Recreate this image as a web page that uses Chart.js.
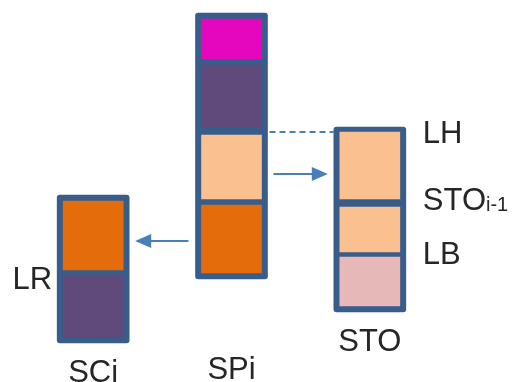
<!DOCTYPE html>
<html>
<head>
<meta charset="utf-8">
<script src="https://cdn.jsdelivr.net/npm/chart.js@4"></script>
<style>
  html, body { margin: 0; padding: 0; background: #fff; }
  canvas { display: block; }
</style>
</head>
<body>
<canvas id="diagram" width="516" height="382"></canvas>
<script>
// columns of the diagram
const columns = ["SCi", "SPi", "STO"];
// outer box of every column [bottom, top]
const boxRanges = [[39, 187], [103, 369], [70, 255]];
// stacked compartments, bottom layer first, one entry per column
const layer1 = [[45, 106], [109, 177], [76, 125]];
const layer2 = [[112, 181], [183, 247], [130, 175]];
const layer3 = [null, [255, 317], [183, 250]];
const layer4 = [null, [323, 363], null];
// level marks next to the boxes
const levelNames = ["LH", "STO", "LB", "LR"];
const levelSubs = ["", "i-1", "", ""];
const levelColumns = ["STO", "STO", "STO", "SCi"];
const levelValues = [250, 183, 129, 104];
// column names under the boxes (baseline level)
const nameLevels = [0, 3, 31];
// transfers between columns
const flowFrom = ["SPi", "SPi"];
const flowTo = ["SCi", "STO"];
const flowLevels = [141, 208];

// colours
const BORDER = "#385d8a";
const ARROW = "#4a7ebb";
const TEXT = "#262626";
const layerColors = [
  ["#604a7b", "#e46c0a", "#e6b9b8"],
  ["#e46c0a", "#fac090", "#fac090"],
  ["#fff", "#604a7b", "#fac090"],
  ["#fff", "#e507bd", "#fff"],
];
const FONT = '"Liberation Sans", Arial, sans-serif';

function layer(data, i) {
  return {
    data: data,
    backgroundColor: layerColors[i],
    barThickness: 60,
    grouped: false,
    borderWidth: 0,
    order: 0,
  };
}

// ✅ Draw labels, arrows and the dashed link
const diagramPlugin = {
  id: "diagram",
  afterDatasetsDraw(chart) {
    const ctx = chart.ctx;
    const y = chart.scales.y;
    const boxes = chart.getDatasetMeta(0).data;
    const box = (name) => {
      const b = boxes[columns.indexOf(name)];
      return { left: b.x - b.width / 2, right: b.x + b.width / 2, x: b.x };
    };

    ctx.save();
    // arrows
    ctx.strokeStyle = ARROW;
    ctx.fillStyle = ARROW;
    ctx.lineWidth = 2;
    flowFrom.forEach((from, i) => {
      const src = box(from);
      const dst = box(flowTo[i]);
      const py = y.getPixelForValue(flowLevels[i]);
      const dir = dst.x > src.x ? 1 : -1;
      const x1 = dir > 0 ? src.right + 6 : src.left - 7;
      const x2 = dir > 0 ? dst.left - 6 : dst.right + 6;
      ctx.beginPath();
      ctx.moveTo(x1, py);
      ctx.lineTo(x2 - dir * 12, py);
      ctx.stroke();
      ctx.beginPath();
      ctx.moveTo(x2, py);
      ctx.lineTo(x2 - dir * 16, py - 7);
      ctx.lineTo(x2 - dir * 16, py + 7);
      ctx.closePath();
      ctx.fill();
    });

    // dashed link at LH level
    const lh = y.getPixelForValue(levelValues[0]);
    ctx.setLineDash([6, 4]);
    ctx.beginPath();
    ctx.moveTo(box("SPi").right + 2, lh);
    ctx.lineTo(box("STO").left, lh);
    ctx.stroke();
    ctx.setLineDash([]);

    // level labels
    ctx.fillStyle = TEXT;
    ctx.textBaseline = "alphabetic";
    levelNames.forEach((name, i) => {
      const b = box(levelColumns[i]);
      const py = y.getPixelForValue(levelValues[i]) + 11;
      ctx.font = "31px " + FONT;
      if (levelColumns[i] === columns[0]) {
        ctx.textAlign = "right";
        ctx.fillText(name, b.left - 5, py);
      } else {
        ctx.textAlign = "left";
        const px = b.right + 17;
        ctx.fillText(name, px, py);
        if (levelSubs[i]) {
          const w = ctx.measureText(name).width;
          ctx.font = "20px " + FONT;
          ctx.fillText(levelSubs[i], px + w, py + 1);
        }
      }
    });

    // column names
    ctx.font = "31px " + FONT;
    ctx.textAlign = "center";
    columns.forEach((name, i) => {
      ctx.fillText(name, box(name).x, y.getPixelForValue(nameLevels[i]));
    });
    ctx.restore();
  },
};

new Chart(document.getElementById("diagram"), {
  type: "bar",
  data: {
    labels: columns,
    datasets: [
      {
        data: boxRanges,
        backgroundColor: BORDER,
        barThickness: 72,
        grouped: false,
        borderRadius: 3,
        borderSkipped: false,
        order: 10,
      },
      layer(layer1, 0),
      layer(layer2, 1),
      layer(layer3, 2),
      layer(layer4, 3),
    ],
  },
  options: {
    responsive: false,
    animation: false,
    devicePixelRatio: 1,
    layout: { padding: { left: 24, right: 77, top: 0, bottom: 0 } },
    plugins: { legend: { display: false }, tooltip: { enabled: false } },
    scales: {
      x: { display: false },
      y: { display: false, min: 0, max: 382 },
    },
  },
  plugins: [diagramPlugin],
});
</script>
</body>
</html>
